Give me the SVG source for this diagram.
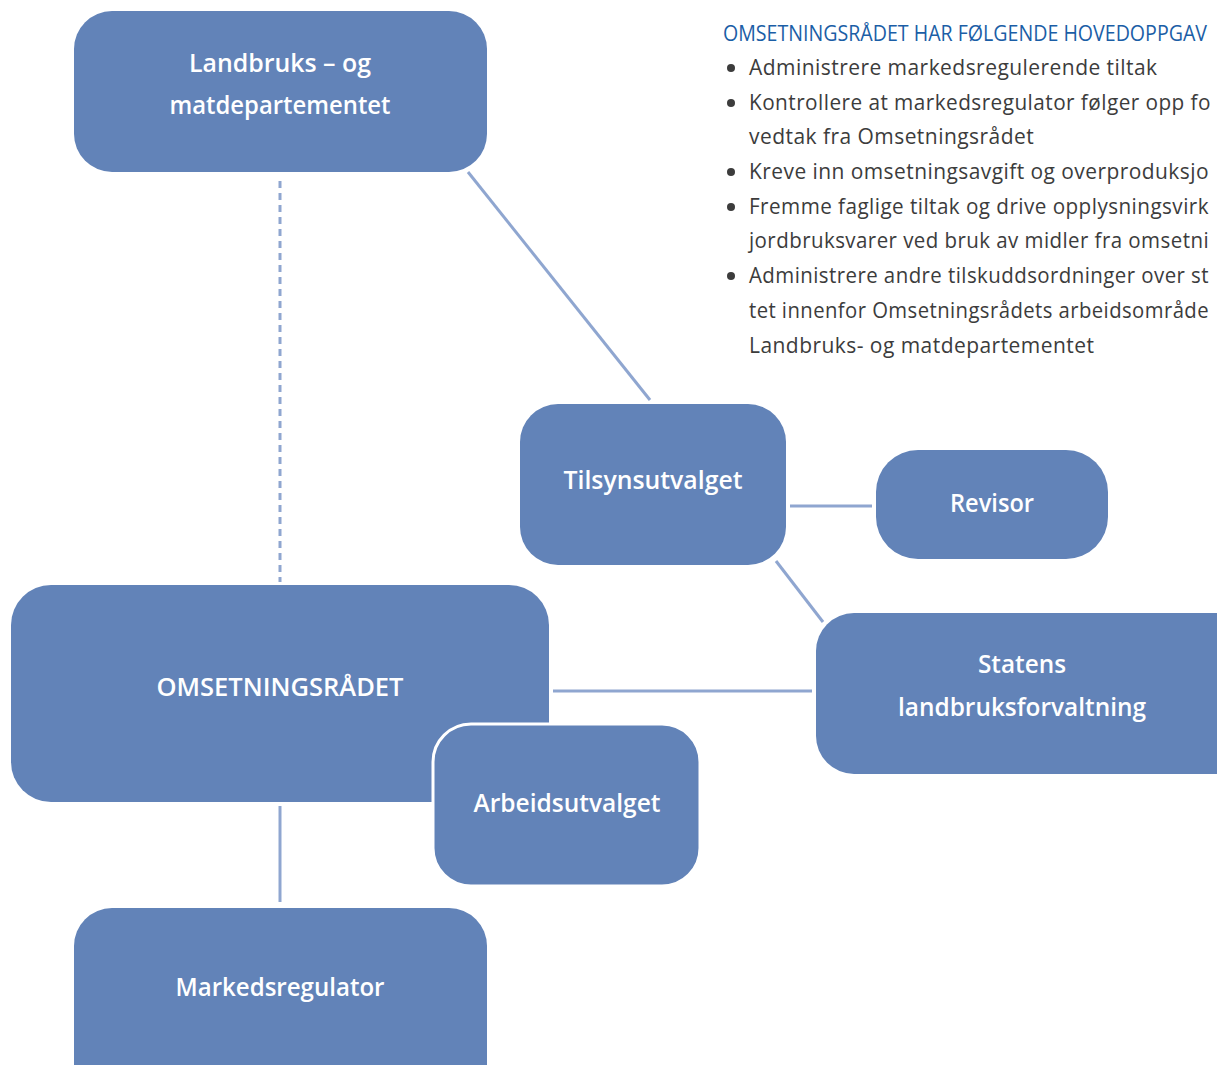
<svg xmlns="http://www.w3.org/2000/svg" width="1217" height="1065" viewBox="0 0 1217 1065">
<style>
.box{fill:#6283b8}
.lbl{font-family:"Open Sans","Noto Sans",sans-serif;font-weight:600;font-size:25px;fill:#ffffff;text-anchor:middle}
.conn{stroke:#8fa6d0;stroke-width:3;fill:none}
.hd{font-family:"Open Sans","Noto Sans",sans-serif;font-size:22px;fill:#1b5ea6}
.bt{font-family:"Open Sans","Noto Sans",sans-serif;font-size:21px;letter-spacing:0.45px;fill:#3c3c3c}
.bul{fill:#3c3c3c}
</style>
<rect width="1217" height="1065" fill="#ffffff"/>
<g id="connectors">
<line class="conn" x1="280" y1="181" x2="280" y2="582" stroke-dasharray="7,5"/>
<line class="conn" x1="468" y1="172" x2="650" y2="400"/>
<line class="conn" x1="790" y1="506" x2="872" y2="506"/>
<line class="conn" x1="776" y1="561" x2="823" y2="622"/>
<line class="conn" x1="553" y1="691" x2="812" y2="691"/>
<line class="conn" x1="280" y1="806" x2="280" y2="902"/>
</g>
<g id="landbruks">
<rect class="box" x="74" y="11" width="413" height="161" rx="38"/>
<text class="lbl" x="280" y="72" textLength="182" lengthAdjust="spacingAndGlyphs">Landbruks – og</text>
<text class="lbl" x="280" y="114" textLength="221" lengthAdjust="spacingAndGlyphs">matdepartementet</text>
</g>
<g id="tilsynsutvalget">
<rect class="box" x="520" y="404" width="266" height="161" rx="38"/>
<text class="lbl" x="653" y="489" textLength="179" lengthAdjust="spacingAndGlyphs">Tilsynsutvalget</text>
</g>
<g id="revisor">
<rect class="box" x="876" y="450" width="232" height="109" rx="42"/>
<text class="lbl" x="992" y="512" textLength="84" lengthAdjust="spacingAndGlyphs">Revisor</text>
</g>
<g id="statens">
<rect class="box" x="816" y="613" width="440" height="161" rx="38"/>
<text class="lbl" x="1022" y="673" textLength="88" lengthAdjust="spacingAndGlyphs">Statens</text>
<text class="lbl" x="1022" y="716" textLength="248" lengthAdjust="spacingAndGlyphs">landbruksforvaltning</text>
</g>
<g id="omsetningsradet">
<rect class="box" x="11" y="585" width="538" height="217" rx="40"/>
<text class="lbl" x="280" y="696" textLength="247" lengthAdjust="spacingAndGlyphs">OMSETNINGSRÅDET</text>
</g>
<g id="arbeidsutvalget">
<rect class="box" x="433" y="724" width="267" height="162" rx="38" stroke="#ffffff" stroke-width="3"/>
<text class="lbl" x="567" y="812" textLength="187" lengthAdjust="spacingAndGlyphs">Arbeidsutvalget</text>
</g>
<g id="markedsregulator">
<rect class="box" x="74" y="908" width="413" height="200" rx="38"/>
<text class="lbl" x="280" y="996" textLength="209" lengthAdjust="spacingAndGlyphs">Markedsregulator</text>
</g>
<g id="textblock">
<text class="hd" x="723" y="41" textLength="484" lengthAdjust="spacingAndGlyphs">OMSETNINGSRÅDET HAR FØLGENDE HOVEDOPPGAV</text>
<circle class="bul" cx="731" cy="68" r="4"/>
<text class="bt" x="749" y="75">Administrere markedsregulerende tiltak</text>
<circle class="bul" cx="731" cy="103" r="4"/>
<text class="bt" x="749" y="110" textLength="462" lengthAdjust="spacingAndGlyphs">Kontrollere at markedsregulator følger opp fo</text>
<text class="bt" x="749" y="144">vedtak fra Omsetningsrådet</text>
<circle class="bul" cx="731" cy="172" r="4"/>
<text class="bt" x="749" y="179" textLength="460" lengthAdjust="spacingAndGlyphs">Kreve inn omsetningsavgift og overproduksjo</text>
<circle class="bul" cx="731" cy="207" r="4"/>
<text class="bt" x="749" y="214" textLength="460" lengthAdjust="spacingAndGlyphs">Fremme faglige tiltak og drive opplysningsvirk</text>
<text class="bt" x="749" y="248" textLength="460" lengthAdjust="spacingAndGlyphs">jordbruksvarer ved bruk av midler fra omsetni</text>
<circle class="bul" cx="731" cy="276" r="4"/>
<text class="bt" x="749" y="283" textLength="460" lengthAdjust="spacingAndGlyphs">Administrere andre tilskuddsordninger over st</text>
<text class="bt" x="749" y="318" textLength="460" lengthAdjust="spacingAndGlyphs">tet innenfor Omsetningsrådets arbeidsområde</text>
<text class="bt" x="749" y="353">Landbruks- og matdepartementet</text>
</g>
</svg>
